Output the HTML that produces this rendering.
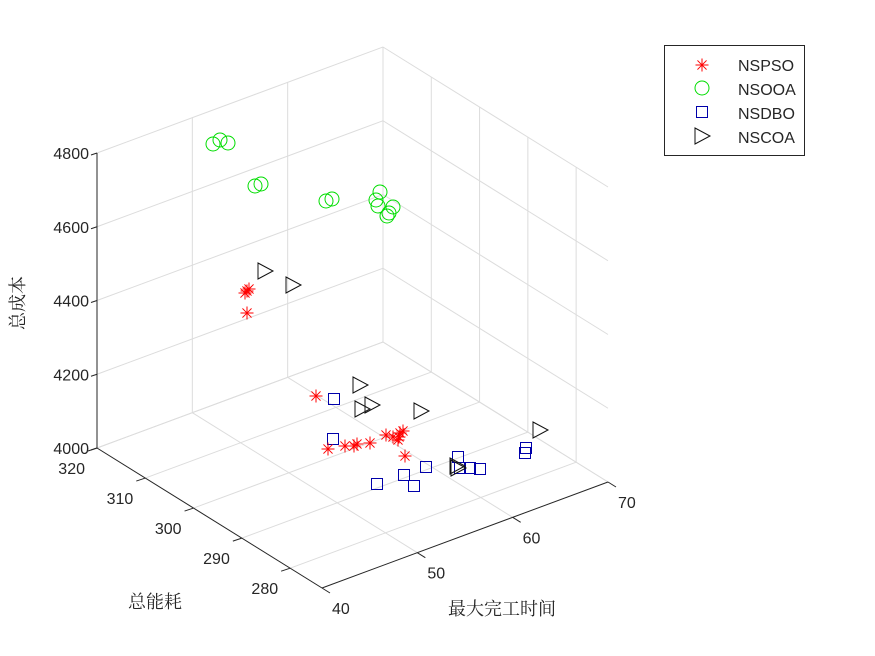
<!DOCTYPE html>
<html><head><meta charset="utf-8"><style>
html,body{margin:0;padding:0;background:#fff;width:875px;height:656px;overflow:hidden}
svg text{font-family:"Liberation Sans",Arial,sans-serif;font-size:16px;fill:#262626}
.cjk{font-family:"Liberation Serif","Noto Serif CJK SC",serif;font-size:18px;fill:#262626}
</style></head><body>
<svg id="s" width="875" height="656" xmlns="http://www.w3.org/2000/svg">
<rect width="875" height="656" fill="#fff"/>
<g id="grid" stroke="#dcdcdc" stroke-width="1" fill="none"></g>
<g id="axes" stroke="#262626" stroke-width="1" fill="none"></g>
<g id="lbl"></g>
<g id="pts"></g>
<text x="128" y="608" class="cjk">总能耗</text>
<text x="448" y="615" class="cjk">最大完工时间</text>
<text transform="translate(24,330) rotate(-90)" class="cjk">总成本</text>
<rect x="664.5" y="45.5" width="140" height="110" fill="#fff" stroke="#262626"/>
<g id="leg"></g>
<text x="738" y="71">NSPSO</text>
<text x="738" y="95">NSOOA</text>
<text x="738" y="119">NSDBO</text>
<text x="738" y="143">NSCOA</text>
</svg>
<script>
var EMIN=273.4;
var B=[322,588],CB=[286,-106],AB=[-225,-140],ZH=295;
function P(x,e,z){var f=(e-EMIN)/(320-EMIN);return [B[0]+(x-40)/30*CB[0]+f*AB[0], B[1]+(x-40)/30*CB[1]+f*AB[1]-(z-4000)/800*ZH];}
var NS="http://www.w3.org/2000/svg";
function el(p,t,a){var n=document.createElementNS(NS,t);for(var k in a)n.setAttribute(k,a[k]);document.getElementById(p).appendChild(n);return n;}
function L(p,a,b){el(p,'line',{x1:a[0],y1:a[1],x2:b[0],y2:b[1]});}
[40,50,60,70].forEach(function(x){L('grid',P(x,EMIN,4000),P(x,320,4000));L('grid',P(x,320,4000),P(x,320,4800));});
[280,290,300,310,320].forEach(function(e){L('grid',P(40,e,4000),P(70,e,4000));L('grid',P(70,e,4000),P(70,e,4800));});
[4000,4200,4400,4600,4800].forEach(function(z){L('grid',P(40,320,z),P(70,320,z));L('grid',P(70,320,z),P(70,EMIN,z));});
L('axes',P(40,320,4000),P(40,320,4800));
L('axes',P(40,320,4000),P(40,EMIN,4000));
L('axes',P(40,EMIN,4000),P(70,EMIN,4000));
[4000,4200,4400,4600,4800].forEach(function(z){var p=P(40,320,z);L('axes',p,[p[0]-6,p[1]+2]);
 var t=el('lbl','text',{x:p[0]-8,y:p[1]+6,'text-anchor':'end'});t.textContent=z;});
[280,290,300,310,320].forEach(function(e){var p=P(40,e,4000);L('axes',p,[p[0]-9,p[1]+3]);
 var t=el('lbl','text',{x:p[0]-12,y:p[1]+26,'text-anchor':'end'});t.textContent=e;});
[40,50,60,70].forEach(function(x){var p=P(x,EMIN,4000);L('axes',p,[p[0]+8,p[1]+5]);
 var t=el('lbl','text',{x:p[0]+10,y:p[1]+26});t.textContent=x;});
function star(g,x,y,r){var c='#ff0000';[[r,0],[0,r],[r*.7,r*.7],[r*.7,-r*.7]].forEach(function(d){el(g,'line',{x1:x-d[0],y1:y-d[1],x2:x+d[0],y2:y+d[1],stroke:c,'stroke-width':1});});}
function circ(g,x,y){el(g,'circle',{cx:x,cy:y,r:7,fill:'none',stroke:'#00dd00','stroke-width':1});}
function sq(g,x,y){el(g,'rect',{x:x-5.5,y:y-5.5,width:11,height:11,fill:'none',stroke:'#0000aa','stroke-width':1});}
function tri(g,x,y){el(g,'polygon',{points:(x-7)+','+(y-8)+' '+(x+8)+','+y+' '+(x-7)+','+(y+8),fill:'none',stroke:'#111','stroke-width':1});}
[[213,144],[220,140],[228,143],[255,186],[261,184],[326,201],[332,199],[380,192],[376,200],[378,206],[393,207],[389,213],[387,216]].forEach(function(p){circ('pts',p[0],p[1]);});
[[334,399],[333,439],[377,484],[404,475],[414,486],[426,467],[458,457],[460,468],[470,468],[480,469],[526,448],[525,453]].forEach(function(p){sq('pts',p[0],p[1]);});
[[265,271],[293,285],[360,385],[362,409],[372,405],[421,411],[540,430],[458,468],[457,466]].forEach(function(p){tri('pts',p[0],p[1]);});
[[247,291],[249,289],[245,293],[247,313],[316,396],[328,449],[345,446],[357,444],[370,443],[354,446],[386,435],[393,437],[400,433],[403,431],[398,440],[405,456],[399,437]].forEach(function(p){star('pts',p[0],p[1],6.5);});
star('leg',702,65,6.5);circ('leg',702,88);sq('leg',702,112);tri('leg',702,136);
</script>
</body></html>
